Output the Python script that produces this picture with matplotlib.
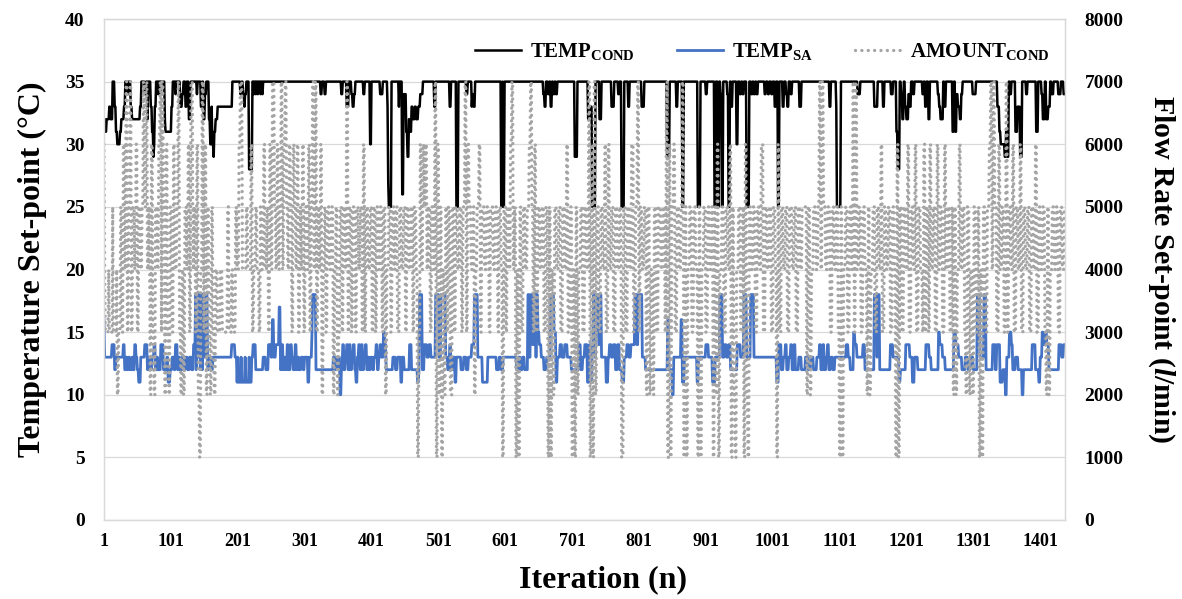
import numpy as np
import matplotlib
matplotlib.use("Agg")
import matplotlib.pyplot as plt

plt.rcParams["font.family"] = ["Liberation Serif", "DejaVu Serif"]
plt.rcParams["font.weight"] = "bold"
plt.rcParams["axes.labelweight"] = "bold"
plt.rcParams["mathtext.fontset"] = "custom"
plt.rcParams["mathtext.rm"] = "Liberation Serif:bold"
plt.rcParams["mathtext.bf"] = "Liberation Serif:bold"
plt.rcParams["mathtext.it"] = "Liberation Serif:italic:bold"

N_ITER = 1438

# (first iteration, value) -- value holds until the next entry
TEMP_COND = [
    (1, 32), (3, 31), (5, 32), (9, 33), (11, 32), (14, 35), (17, 33), (19, 31), (21, 30), (25, 31),
    (27, 32), (31, 33), (33, 35), (36, 34), (38, 35), (41, 33), (43, 32), (55, 33), (57, 35), (62, 34),
    (64, 35), (66, 32), (67, 35), (71, 33), (73, 31), (75, 29), (76, 30), (77, 33), (79, 35), (82, 34),
    (83, 35), (86, 34), (87, 35), (92, 32), (93, 31), (102, 33), (104, 35), (108, 34), (109, 35), (115, 33),
    (118, 34), (120, 35), (123, 33), (125, 35), (128, 32), (130, 34), (131, 35), (140, 34), (141, 35), (146, 33),
    (148, 35), (150, 32), (152, 34), (154, 35), (158, 32), (160, 30), (162, 33), (163, 30), (165, 29), (166, 31),
    (168, 32), (171, 33), (193, 35), (205, 34), (207, 35), (209, 34), (211, 33), (212, 34), (214, 35), (218, 28),
    (223, 35), (225, 34), (226, 35), (228, 34), (229, 35), (231, 34), (232, 35), (235, 34), (236, 35), (238, 34),
    (239, 35), (325, 34), (327, 35), (331, 34), (333, 35), (356, 34), (358, 35), (364, 33), (367, 35), (371, 34),
    (373, 33), (375, 34), (377, 35), (389, 34), (391, 35), (399, 30), (401, 35), (414, 34), (418, 35), (425, 33),
    (426, 27), (427, 25), (431, 35), (442, 33), (443, 35), (447, 26), (449, 34), (453, 31), (455, 29), (457, 32),
    (459, 31), (461, 33), (463, 32), (466, 33), (468, 32), (471, 33), (474, 34), (478, 35), (495, 33), (497, 35),
    (518, 33), (520, 35), (528, 25), (531, 35), (543, 34), (545, 35), (551, 33), (552, 34), (554, 33), (556, 35),
    (595, 25), (597, 35), (598, 25), (600, 35), (658, 34), (660, 33), (662, 35), (665, 34), (667, 35), (669, 33),
    (671, 35), (673, 34), (675, 35), (677, 34), (679, 35), (705, 29), (709, 35), (725, 32), (728, 33), (731, 25),
    (736, 35), (742, 32), (745, 35), (760, 33), (764, 35), (770, 34), (772, 35), (775, 25), (779, 35), (785, 33),
    (787, 35), (805, 33), (809, 35), (843, 29), (847, 35), (857, 33), (859, 35), (866, 25), (868, 35), (889, 25),
    (893, 35), (901, 34), (903, 35), (914, 25), (916, 35), (919, 25), (921, 35), (923, 34), (925, 25), (927, 35),
    (933, 34), (935, 25), (937, 35), (939, 33), (941, 35), (947, 30), (949, 35), (952, 34), (954, 35), (956, 34),
    (958, 35), (962, 25), (966, 35), (969, 34), (971, 35), (973, 34), (975, 35), (977, 34), (979, 35), (989, 34),
    (991, 35), (994, 34), (996, 35), (999, 34), (1001, 35), (1004, 33), (1006, 35), (1009, 25), (1011, 35), (1016, 33),
    (1018, 35), (1021, 34), (1023, 33), (1025, 35), (1028, 34), (1030, 35), (1041, 33), (1044, 35), (1086, 33), (1088, 35),
    (1096, 33), (1097, 25), (1103, 35), (1128, 34), (1132, 35), (1153, 33), (1158, 35), (1166, 33), (1168, 35), (1178, 34),
    (1181, 35), (1186, 31), (1188, 28), (1191, 35), (1193, 34), (1195, 32), (1197, 35), (1199, 33), (1201, 32), (1204, 34),
    (1206, 33), (1208, 35), (1211, 34), (1213, 35), (1225, 34), (1227, 35), (1229, 33), (1231, 35), (1234, 32), (1236, 35),
    (1248, 34), (1250, 33), (1252, 32), (1256, 35), (1258, 33), (1260, 35), (1270, 31), (1272, 35), (1274, 31), (1276, 34),
    (1278, 33), (1281, 32), (1283, 34), (1285, 35), (1300, 34), (1305, 35), (1337, 33), (1340, 31), (1342, 30), (1348, 29),
    (1350, 31), (1352, 29), (1354, 35), (1356, 34), (1358, 35), (1364, 31), (1367, 33), (1371, 29), (1374, 35), (1380, 34),
    (1382, 35), (1395, 31), (1398, 35), (1403, 34), (1405, 32), (1408, 35), (1410, 32), (1413, 33), (1416, 35), (1418, 34),
    (1421, 35), (1428, 34), (1432, 35), (1436, 34),
]

TEMP_SA = [
    (1, 16), (2, 13), (13, 14), (17, 12), (19, 13), (30, 14), (32, 12), (34, 13), (36, 12), (38, 13),
    (40, 12), (43, 13), (45, 12), (47, 14), (49, 13), (51, 12), (53, 11), (56, 13), (62, 14), (66, 12),
    (68, 13), (70, 12), (73, 13), (76, 14), (78, 12), (80, 13), (82, 12), (86, 14), (90, 12), (95, 13),
    (97, 11), (100, 12), (103, 13), (106, 12), (108, 14), (111, 12), (113, 13), (115, 12), (118, 13), (120, 12),
    (123, 13), (126, 12), (129, 13), (132, 12), (135, 14), (138, 18), (139, 12), (140, 18), (142, 13), (143, 18),
    (145, 12), (146, 18), (148, 12), (149, 18), (152, 13), (153, 18), (156, 12), (158, 13), (161, 12), (164, 13),
    (192, 14), (197, 13), (200, 11), (201, 13), (202, 11), (206, 13), (207, 11), (212, 13), (213, 11), (218, 13),
    (219, 11), (222, 13), (224, 14), (228, 12), (239, 13), (243, 12), (247, 14), (251, 13), (253, 16), (255, 13),
    (258, 14), (263, 17), (265, 12), (267, 14), (269, 12), (271, 13), (273, 12), (275, 14), (277, 12), (280, 14),
    (282, 13), (284, 12), (287, 14), (289, 12), (291, 13), (293, 12), (296, 13), (299, 12), (301, 13), (306, 11),
    (308, 13), (312, 15), (313, 18), (318, 12), (344, 13), (347, 12), (350, 13), (354, 10), (356, 12), (358, 14),
    (360, 12), (362, 13), (364, 14), (366, 12), (368, 14), (370, 12), (372, 13), (374, 14), (376, 12), (378, 11),
    (380, 13), (382, 14), (384, 12), (386, 14), (388, 12), (390, 13), (392, 14), (394, 12), (396, 13), (398, 12),
    (400, 13), (403, 12), (405, 13), (408, 14), (410, 12), (412, 13), (414, 14), (416, 13), (419, 15), (421, 14),
    (423, 12), (433, 13), (437, 12), (440, 13), (445, 11), (447, 13), (450, 12), (458, 14), (461, 12), (470, 11),
    (472, 12), (473, 18), (477, 12), (480, 14), (484, 13), (487, 14), (490, 13), (497, 18), (502, 13), (505, 18),
    (512, 13), (515, 12), (518, 14), (520, 12), (523, 13), (526, 11), (528, 13), (535, 12), (539, 13), (543, 12),
    (546, 13), (551, 14), (555, 18), (560, 13), (567, 11), (575, 13), (588, 12), (592, 13), (595, 12), (598, 13),
    (618, 12), (621, 13), (624, 12), (627, 13), (630, 12), (635, 18), (637, 13), (639, 18), (642, 14), (644, 18),
    (647, 13), (648, 18), (650, 15), (652, 14), (655, 13), (659, 12), (663, 13), (669, 18), (674, 15), (677, 11),
    (679, 13), (683, 14), (686, 13), (690, 14), (694, 13), (700, 12), (711, 14), (714, 12), (717, 13), (720, 14),
    (724, 11), (727, 14), (729, 11), (731, 14), (733, 18), (735, 13), (737, 18), (741, 14), (743, 18), (745, 13),
    (752, 11), (755, 13), (757, 14), (760, 13), (763, 14), (766, 12), (769, 14), (772, 12), (776, 11), (779, 13),
    (783, 14), (786, 13), (789, 14), (795, 18), (798, 14), (800, 18), (806, 13), (811, 12), (844, 16), (846, 12),
    (851, 10), (853, 13), (864, 16), (866, 11), (869, 13), (888, 11), (890, 13), (901, 14), (905, 13), (911, 11),
    (915, 13), (922, 18), (926, 13), (929, 14), (932, 13), (935, 14), (938, 12), (948, 14), (953, 13), (958, 18),
    (962, 13), (968, 18), (973, 13), (1007, 11), (1010, 14), (1014, 12), (1017, 13), (1020, 14), (1022, 12), (1025, 13),
    (1028, 14), (1030, 12), (1033, 14), (1035, 12), (1040, 13), (1044, 12), (1050, 13), (1054, 12), (1058, 13), (1062, 12),
    (1067, 13), (1071, 14), (1073, 12), (1076, 14), (1078, 12), (1081, 13), (1083, 14), (1085, 12), (1088, 13), (1091, 12),
    (1094, 13), (1111, 14), (1114, 13), (1117, 12), (1122, 15), (1124, 14), (1127, 13), (1136, 14), (1139, 12), (1153, 18),
    (1157, 13), (1158, 18), (1161, 12), (1177, 14), (1181, 13), (1190, 11), (1192, 12), (1200, 14), (1206, 13), (1210, 11),
    (1213, 13), (1218, 12), (1230, 14), (1235, 13), (1238, 12), (1249, 15), (1251, 14), (1255, 13), (1259, 12), (1272, 15),
    (1275, 14), (1279, 13), (1284, 12), (1289, 13), (1293, 12), (1297, 13), (1301, 12), (1307, 18), (1311, 13), (1317, 18),
    (1320, 12), (1330, 14), (1334, 12), (1336, 14), (1341, 11), (1345, 12), (1349, 10), (1351, 13), (1355, 15), (1358, 14),
    (1360, 12), (1364, 13), (1368, 12), (1374, 10), (1376, 12), (1389, 14), (1394, 12), (1399, 11), (1401, 13), (1404, 15),
    (1406, 14), (1409, 15), (1411, 14), (1414, 12), (1429, 14), (1433, 13), (1436, 14),
]

AMOUNT_COND = [
    (1, 6000), (2, 4000), (3, 3000), (8, 4000), (9, 3000), (14, 5000), (15, 3000), (20, 4000), (21, 2000), (23, 3000),
    (26, 5000), (28, 3000), (30, 6000), (32, 4000), (34, 7000), (36, 3000), (38, 5000), (40, 7000), (42, 3000), (44, 5000),
    (47, 4000), (49, 6000), (51, 3000), (53, 5000), (56, 4000), (58, 5000), (60, 7000), (62, 5000), (64, 7000), (66, 4000),
    (68, 5000), (70, 2000), (72, 6000), (74, 3000), (76, 2000), (78, 5000), (81, 4000), (83, 6000), (85, 7000), (87, 3000),
    (88, 7000), (90, 5000), (92, 2000), (94, 6000), (96, 3000), (98, 2000), (100, 5000), (103, 3000), (105, 6000), (107, 4000),
    (110, 5000), (112, 7000), (114, 3000), (116, 2000), (118, 4000), (120, 2000), (122, 5000), (125, 4000), (127, 6000), (129, 3000),
    (131, 7000), (134, 4000), (136, 5000), (138, 3000), (140, 6000), (142, 2000), (144, 1000), (146, 4000), (148, 7000), (150, 3000),
    (152, 6000), (154, 2000), (156, 5000), (158, 3000), (160, 2000), (162, 5000), (164, 3000), (166, 2000), (168, 4000), (171, 3000),
    (175, 4000), (178, 3000), (186, 5000), (188, 3000), (192, 4000), (194, 3000), (198, 5000), (200, 4000), (203, 6000), (205, 7000),
    (208, 4000), (214, 5000), (216, 4000), (221, 6000), (223, 3000), (225, 4000), (228, 5000), (230, 4000), (233, 3000), (235, 5000),
    (237, 4000), (240, 6000), (242, 4000), (245, 5000), (247, 3000), (249, 6000), (251, 4000), (253, 7000), (256, 5000), (258, 4000),
    (260, 6000), (262, 4000), (264, 5000), (266, 7000), (268, 4000), (270, 6000), (272, 7000), (274, 5000), (276, 4000), (278, 6000),
    (280, 5000), (282, 3000), (284, 6000), (286, 5000), (288, 4000), (290, 6000), (292, 3000), (294, 5000), (296, 4000), (298, 6000),
    (300, 3000), (302, 5000), (305, 4000), (307, 6000), (309, 3000), (311, 5000), (313, 7000), (315, 4000), (317, 7000), (319, 3000),
    (321, 5000), (323, 4000), (325, 6000), (327, 2000), (329, 4000), (331, 5000), (333, 3000), (335, 5000), (338, 4000), (341, 5000),
    (344, 2000), (346, 4000), (348, 5000), (350, 2000), (352, 3000), (354, 5000), (357, 3000), (359, 5000), (362, 4000), (364, 7000),
    (366, 3000), (368, 5000), (371, 3000), (373, 5000), (377, 3000), (379, 5000), (382, 4000), (384, 5000), (387, 3000), (389, 6000),
    (391, 3000), (393, 5000), (396, 4000), (399, 5000), (402, 3000), (404, 5000), (407, 3000), (409, 5000), (412, 4000), (414, 5000),
    (417, 3000), (419, 5000), (422, 2000), (424, 4000), (427, 5000), (430, 3000), (432, 5000), (435, 4000), (437, 5000), (440, 3000),
    (443, 5000), (446, 4000), (449, 5000), (452, 3000), (454, 5000), (457, 4000), (460, 5000), (463, 3000), (465, 5000), (468, 4000),
    (470, 1000), (472, 3000), (474, 6000), (476, 4000), (478, 6000), (480, 5000), (482, 6000), (484, 4000), (486, 5000), (489, 3000),
    (491, 5000), (494, 4000), (496, 7000), (498, 1000), (500, 6000), (502, 2000), (504, 5000), (506, 1000), (508, 4000), (510, 2000),
    (512, 5000), (514, 3000), (516, 5000), (519, 2000), (522, 5000), (525, 3000), (527, 5000), (530, 4000), (533, 5000), (536, 3000),
    (538, 5000), (541, 7000), (543, 3000), (545, 6000), (547, 5000), (550, 4000), (553, 5000), (555, 2000), (557, 4000), (559, 5000),
    (562, 6000), (564, 3000), (566, 5000), (570, 4000), (573, 5000), (577, 3000), (579, 5000), (583, 4000), (586, 5000), (590, 3000),
    (592, 5000), (595, 4000), (597, 1000), (599, 5000), (602, 3000), (604, 5000), (607, 4000), (609, 6000), (611, 7000), (613, 4000),
    (615, 5000), (617, 1000), (619, 4000), (621, 1000), (623, 5000), (625, 3000), (628, 5000), (631, 4000), (634, 5000), (637, 6000),
    (639, 7000), (641, 5000), (643, 3000), (645, 6000), (647, 3000), (650, 5000), (653, 4000), (656, 5000), (659, 3000), (662, 5000),
    (665, 1000), (667, 5000), (669, 1000), (671, 4000), (673, 2000), (675, 5000), (678, 4000), (681, 5000), (684, 3000), (687, 5000),
    (690, 4000), (693, 6000), (695, 3000), (698, 5000), (701, 1000), (703, 4000), (705, 1000), (707, 5000), (709, 2000), (711, 4000),
    (714, 5000), (717, 3000), (720, 5000), (723, 4000), (726, 7000), (728, 1000), (730, 6000), (732, 1000), (734, 7000), (736, 2000),
    (738, 5000), (741, 3000), (744, 5000), (747, 4000), (750, 6000), (752, 3000), (755, 6000), (757, 4000), (760, 5000), (763, 3000),
    (766, 5000), (769, 4000), (772, 5000), (775, 1000), (778, 5000), (781, 3000), (784, 5000), (787, 4000), (790, 6000), (793, 3000),
    (796, 5000), (799, 7000), (801, 3000), (803, 5000), (806, 4000), (809, 5000), (812, 2000), (814, 5000), (817, 2000), (819, 4000),
    (822, 2000), (824, 5000), (827, 3000), (830, 5000), (834, 4000), (837, 5000), (840, 3000), (842, 7000), (844, 1000), (846, 6000),
    (848, 1000), (850, 5000), (853, 6000), (855, 3000), (858, 5000), (861, 4000), (864, 5000), (866, 7000), (868, 1000), (870, 5000),
    (872, 1000), (874, 4000), (877, 5000), (880, 3000), (883, 5000), (886, 4000), (889, 1000), (891, 5000), (893, 1000), (895, 4000),
    (898, 5000), (901, 3000), (904, 5000), (907, 4000), (910, 5000), (912, 1000), (914, 5000), (916, 2000), (918, 6000), (920, 1000),
    (922, 4000), (925, 5000), (928, 3000), (931, 5000), (934, 4000), (937, 6000), (939, 1000), (941, 5000), (943, 2000), (945, 1000),
    (947, 4000), (950, 5000), (953, 3000), (956, 5000), (958, 1000), (960, 6000), (962, 2000), (964, 1000), (966, 5000), (969, 4000),
    (972, 5000), (975, 3000), (978, 5000), (981, 4000), (984, 6000), (987, 3000), (990, 5000), (993, 4000), (996, 5000), (999, 3000),
    (1002, 5000), (1005, 4000), (1007, 1000), (1009, 6000), (1011, 3000), (1014, 5000), (1017, 4000), (1020, 5000), (1023, 3000), (1026, 5000),
    (1030, 4000), (1033, 5000), (1036, 3000), (1039, 5000), (1042, 4000), (1045, 5000), (1052, 2000), (1054, 5000), (1057, 2000), (1059, 4000),
    (1062, 5000), (1066, 4000), (1069, 5000), (1071, 7000), (1073, 4000), (1075, 7000), (1077, 5000), (1080, 4000), (1083, 5000), (1087, 3000),
    (1090, 5000), (1093, 4000), (1096, 5000), (1099, 3000), (1101, 1000), (1103, 5000), (1105, 1000), (1107, 4000), (1110, 5000), (1113, 3000),
    (1116, 5000), (1119, 4000), (1121, 7000), (1123, 3000), (1125, 7000), (1127, 4000), (1130, 5000), (1133, 3000), (1136, 5000), (1139, 4000),
    (1142, 2000), (1144, 5000), (1146, 2000), (1148, 4000), (1151, 5000), (1154, 3000), (1157, 5000), (1160, 4000), (1163, 6000), (1165, 3000),
    (1168, 5000), (1171, 4000), (1174, 5000), (1177, 3000), (1180, 5000), (1183, 4000), (1185, 1000), (1187, 6000), (1189, 1000), (1191, 5000),
    (1194, 3000), (1197, 5000), (1200, 4000), (1203, 6000), (1205, 3000), (1208, 5000), (1211, 4000), (1214, 6000), (1216, 3000), (1219, 5000),
    (1222, 4000), (1225, 3000), (1227, 6000), (1229, 3000), (1231, 5000), (1234, 3000), (1236, 6000), (1238, 4000), (1241, 5000), (1244, 3000),
    (1247, 6000), (1249, 4000), (1252, 5000), (1255, 3000), (1258, 6000), (1260, 4000), (1263, 5000), (1266, 3000), (1269, 5000), (1271, 2000),
    (1273, 5000), (1275, 2000), (1277, 4000), (1280, 6000), (1282, 4000), (1285, 5000), (1288, 3000), (1290, 2000), (1292, 5000), (1295, 2000),
    (1297, 4000), (1300, 2000), (1302, 5000), (1305, 3000), (1308, 5000), (1310, 1000), (1312, 4000), (1314, 1000), (1316, 5000), (1319, 3000),
    (1322, 5000), (1325, 6000), (1327, 7000), (1329, 4000), (1331, 7000), (1333, 5000), (1336, 3000), (1339, 6000), (1341, 4000), (1344, 5000),
    (1347, 3000), (1350, 7000), (1352, 3000), (1354, 5000), (1357, 4000), (1360, 6000), (1362, 3000), (1365, 5000), (1368, 4000), (1371, 6000),
    (1373, 3000), (1376, 5000), (1379, 4000), (1382, 5000), (1385, 3000), (1388, 5000), (1391, 4000), (1394, 6000), (1396, 3000), (1399, 5000),
    (1402, 4000), (1405, 5000), (1408, 3000), (1410, 2000), (1412, 5000), (1414, 2000), (1416, 4000), (1419, 5000), (1422, 4000), (1425, 5000),
    (1428, 3000), (1431, 5000), (1434, 4000), (1437, 5000),
]

X_TICKS = list(range(1, N_ITER + 1, 100))


def expand(pairs):
    starts = np.array([p[0] for p in pairs])
    vals = np.array([p[1] for p in pairs])
    assert np.all(np.diff(starts) > 0), "starts must increase"
    lengths = np.diff(np.append(starts, N_ITER + 1))
    return np.repeat(vals, lengths)


x = np.arange(1, N_ITER + 1)
cond = expand(TEMP_COND)
sa = expand(TEMP_SA)
amount = expand(AMOUNT_COND)

fig = plt.figure(figsize=(11.82, 5.99), dpi=100)
ax = fig.add_axes([104 / 1182, 1 - 520 / 599, (1065 - 104) / 1182, (520 - 19) / 599])
ax2 = ax.twinx()

l1, = ax.plot(x, cond, color="black", lw=1.8, label="TEMP$_{\\mathrm{COND}}$")
l2, = ax.plot(x, sa, color="#4472C4", lw=2.0, label="TEMP$_{\\mathrm{SA}}$")
l3, = ax2.plot(x, amount, color="#A5A5A5", lw=2.4, linestyle=(0, (0.01, 1.9)),
               dash_capstyle="round", label="AMOUNT$_{\\mathrm{COND}}$")

ax.set_xlim(1, N_ITER)
ax.set_ylim(0, 40)
ax.set_yticks(range(0, 41, 5))
ax2.set_ylim(0, 8000)
ax2.set_yticks(range(0, 8001, 1000))
ax.set_xticks(X_TICKS)
ax.set_xticklabels([str(t) for t in X_TICKS])

ax.grid(axis="y", color="#D9D9D9", lw=0.9)
ax.set_axisbelow(True)
for a in (ax, ax2):
    for s in a.spines.values():
        s.set_color("#D9D9D9")
        s.set_linewidth(0.9)
ax.tick_params(axis="y", length=0, pad=14, labelsize=14)
ax.tick_params(axis="x", length=0, pad=9, labelsize=13)
ax2.tick_params(axis="y", length=0, pad=14, labelsize=14)

ax.set_xlabel("Iteration (n)", fontsize=23, fontweight="bold", labelpad=11, x=0.519)
ax.set_ylabel("Temperature Set-point (°C)", fontsize=23, fontweight="bold", labelpad=13)
ax2.set_ylabel("Flow Rate Set-point ($\\mathit{l}$/min)", fontsize=21.5, fontweight="bold",
               rotation=270, labelpad=38)

ax2.legend([l1, l2, l3], [l1.get_label(), l2.get_label(), l3.get_label()],
           loc="center right", bbox_to_anchor=(0.984, 0.935), ncol=3, frameon=False,
           borderpad=0, borderaxespad=0, fontsize=15, handlelength=2.2,
           handletextpad=0.45, columnspacing=2.0)

fig.savefig("out.png", dpi=100)
